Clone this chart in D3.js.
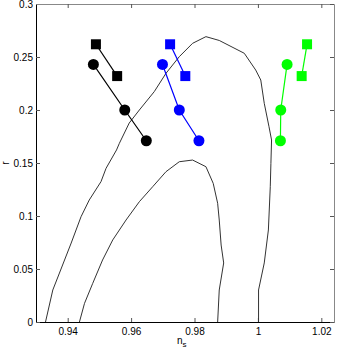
<!DOCTYPE html>
<html>
<head>
<meta charset="utf-8">
<script src="https://cdn.jsdelivr.net/npm/d3@7"></script>
<style>
body { margin: 0; background: #fff; }
text { font-family: "Liberation Sans", Arial, sans-serif; }
</style>
</head>
<body>
<svg width="339" height="350"></svg>
<script>
// marker series (n_s, r)
var blackSqX = [0.9489, 0.9556], blackSqY = [0.262, 0.232];
var blackCiX = [0.9481, 0.9580, 0.9648], blackCiY = [0.243, 0.200, 0.171];
var blueSqX = [0.9723, 0.9771], blueSqY = [0.262, 0.232];
var blueCiX = [0.9699, 0.9752, 0.9814], blueCiY = [0.243, 0.200, 0.171];
var greenSqX = [1.0155, 1.0138], greenSqY = [0.262, 0.232];
var greenCiX = [1.0092, 1.0072, 1.0071], greenCiY = [0.243, 0.200, 0.171];

// contours
var outerX = [0.9330, 0.9353, 0.9374, 0.9411, 0.9442, 0.9468, 0.9505, 0.9521, 0.9554, 0.9563,
    0.9594, 0.9626, 0.9673, 0.9710, 0.9752, 0.9794, 0.9836, 0.9878, 0.9957, 0.9993,
    1.0009, 1.0020, 1.0035, 1.0043, 1.0041, 1.0039, 1.0033, 1.0020, 1.0002, 1.0002];
var outerY = [0, 0.0302, 0.0462, 0.0745, 0.0993, 0.1151, 0.1324, 0.1450, 0.1623, 0.1686,
    0.1877, 0.2000, 0.2173, 0.2346, 0.2503, 0.2629, 0.2692, 0.2656, 0.2535, 0.2377,
    0.2283, 0.2063, 0.1842, 0.1717, 0.1497, 0.1276, 0.0868, 0.0557, 0.0302, 0];
var innerX = [0.9437, 0.9453, 0.9479, 0.9510, 0.9542, 0.9584, 0.9626, 0.9668, 0.9710, 0.9752,
    0.9794, 0.9836, 0.9859, 0.9873, 0.9878, 0.9884, 0.9892, 0.9878, 0.9873];
var innerY = [0, 0.0176, 0.0365, 0.0585, 0.0774, 0.0962, 0.1135, 0.1276, 0.1418, 0.1512,
    0.1528, 0.1465, 0.1308, 0.1120, 0.0962, 0.0726, 0.0557, 0.0302, 0];

var xTicks = [0.94, 0.96, 0.98, 1, 1.02];
var yTicks = [0, 0.05, 0.1, 0.15, 0.2, 0.25, 0.3];

var mLeft = 36, mRight = 334, mTop = 4, mBottom = 322;
var svg = d3.select('svg');

var x = d3.scaleLinear().domain([0.93, 1.024]).range([mLeft, mRight]);
var y = d3.scaleLinear().domain([0, 0.3]).range([mBottom, mTop]);

function zip(a, b) {
    return a.map(function (d, i) { return [d, b[i]]; });
}

var line = d3.line()
    .x(function (d) { return x(d[0]); })
    .y(function (d) { return y(d[1]); });

// axes, ticks inward
var fmt = function (d) { return String(+d.toFixed(2)); };
svg.append("g").attr("class", "ax main").attr("transform", "translate(0," + mBottom + ")")
    .call(d3.axisBottom(x).tickValues(xTicks).tickSizeInner(-4).tickSizeOuter(0).tickPadding(6).tickFormat(fmt));
svg.append("g").attr("class", "ax main").attr("transform", "translate(" + mLeft + ",0)")
    .call(d3.axisLeft(y).tickValues(yTicks).tickSizeInner(-4).tickSizeOuter(0).tickPadding(3).tickFormat(fmt));
svg.append("g").attr("class", "ax side").attr("transform", "translate(0," + mTop + ")")
    .call(d3.axisTop(x).tickValues(xTicks).tickSizeInner(-4).tickSizeOuter(0).tickFormat(""));
svg.append("g").attr("class", "ax side").attr("transform", "translate(" + mRight + ",0)")
    .call(d3.axisRight(y).tickValues(yTicks).tickSizeInner(-4).tickSizeOuter(0).tickFormat(""));

svg.selectAll(".main .domain").attr("stroke", "#000");
svg.selectAll(".side .domain").attr("stroke", "#888");
svg.selectAll(".ax .tick line").attr("stroke", "#555");
svg.selectAll(".ax .tick text").attr("font-size", 10).attr("fill", "#000")
    .attr("font-family", "Liberation Sans, Arial, sans-serif");

// contours
[[outerX, outerY], [innerX, innerY]].forEach(function (c) {
    svg.append("path").datum(zip(c[0], c[1]))
        .attr("d", line)
        .attr("fill", "none")
        .attr("stroke", "#333")
        .attr("stroke-width", 1);
});

// series
function squares(xs, ys, col) {
    var pts = zip(xs, ys);
    svg.append("path").datum(pts).attr("d", line)
        .attr("fill", "none").attr("stroke", col).attr("stroke-width", 1.2);
    svg.selectAll(null).data(pts).enter().append("rect")
        .attr("x", function (d) { return x(d[0]) - 5; })
        .attr("y", function (d) { return y(d[1]) - 5; })
        .attr("width", 10).attr("height", 10)
        .attr("fill", col);
}
function circles(xs, ys, col) {
    var pts = zip(xs, ys);
    svg.append("path").datum(pts).attr("d", line)
        .attr("fill", "none").attr("stroke", col).attr("stroke-width", 1.2);
    svg.selectAll(null).data(pts).enter().append("circle")
        .attr("cx", function (d) { return x(d[0]); })
        .attr("cy", function (d) { return y(d[1]); })
        .attr("r", 5.5)
        .attr("fill", col);
}
squares(blackSqX, blackSqY, "#000");
circles(blackCiX, blackCiY, "#000");
squares(blueSqX, blueSqY, "#0000ff");
circles(blueCiX, blueCiY, "#0000ff");
squares(greenSqX, greenSqY, "#00ff00");
circles(greenCiX, greenCiY, "#00ff00");

// labels
var xl = svg.append("text").attr("x", 177).attr("y", 344).attr("font-size", 10);
xl.append("tspan").text("n");
xl.append("tspan").attr("font-size", 8).attr("dy", 3).text("s");

svg.append("text")
    .attr("transform", "translate(9,163) rotate(-90)")
    .attr("text-anchor", "middle")
    .attr("font-size", 10)
    .text("r");
</script>
</body>
</html>
